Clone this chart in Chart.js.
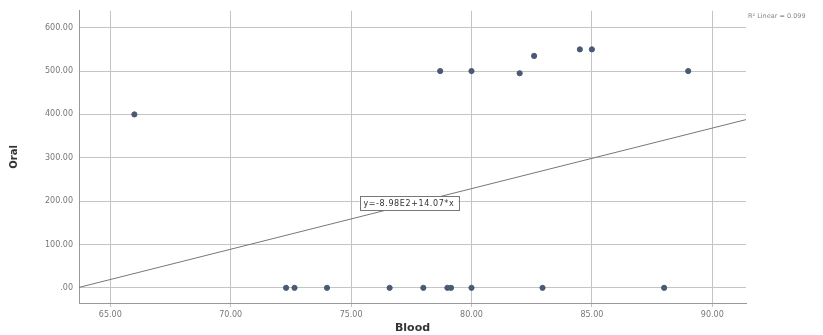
<!DOCTYPE html>
<html>
<head>
<meta charset="utf-8">
<script src="https://cdn.jsdelivr.net/npm/chart.js@4/dist/chart.umd.min.js"></script>
<style>
  html, body { margin: 0; padding: 0; background: #fff; }
  #wrap { width: 823px; height: 335px; position: relative; }
</style>
</head>
<body>
<div id="wrap"><canvas id="myChart"></canvas></div>
<script>
// scatter points (Blood, Oral)
var bloodVals = [66.0, 78.7, 80.0, 82.0, 82.6, 84.5, 85.0, 89.0,
                 72.3, 72.65, 74.0, 76.6, 78.0, 79.0, 79.15, 80.0, 82.95, 88.0];
var oralVals  = [400, 500, 500, 495, 535, 550, 550, 500,
                 0, 0, 0, 0, 0, 0, 0, 0, 0, 0];

// fit line end points
var fitX = [63.7, 91.4];
var fitY = [1, 388];

var xTicks = [65, 70, 75, 80, 85, 90];
var yTicks = [0, 100, 200, 300, 400, 500, 600];
var fitLabel = 'y=-8.98E2+14.07*x';
var r2Label = 'R\u00B2 Linear = 0.099';

var points = [];
for (var i = 0; i < bloodVals.length; i++) {
  points.push({ x: bloodVals[i], y: oralVals[i] });
}
var linePts = [];
for (var j = 0; j < fitX.length; j++) {
  linePts.push({ x: fitX[j], y: fitY[j] });
}

function fmt(v) {
  return v === 0 ? '.00' : v.toFixed(2);
}

// labels: equation box + R2 text
var labelPlugin = {
  id: 'labels',
  afterDatasetsDraw: function(chart) {
    var ctx = chart.ctx;
    var xs = chart.scales.x, ys = chart.scales.y;
    ctx.save();
    ctx.font = '8px "DejaVu Sans"';
    var tw = ctx.measureText(fitLabel).width + 10;
    var cx = xs.getPixelForValue(77.4);
    var cy = ys.getPixelForValue(200) + 2;
    ctx.fillStyle = '#fff';
    ctx.fillRect(cx - tw / 2 - 4, cy - 7, tw + 8, 14);
    ctx.strokeStyle = '#777';
    ctx.lineWidth = 1;
    ctx.strokeRect(Math.round(cx - tw / 2 - 4) + 0.5, Math.round(cy - 7) + 0.5, Math.round(tw + 8), 14);
    ctx.fillStyle = '#333';
    ctx.textAlign = 'center';
    ctx.textBaseline = 'middle';
    if ('letterSpacing' in ctx) ctx.letterSpacing = '0.6px';
    ctx.fillText(fitLabel, cx, cy + 0.5);
    if ('letterSpacing' in ctx) ctx.letterSpacing = '0px';

    ctx.font = '6.5px "DejaVu Sans"';
    ctx.fillStyle = '#888';
    ctx.textAlign = 'left';
    ctx.fillText(r2Label, chart.chartArea.right + 2, 16);
    ctx.restore();
  }
};

var ctx = document.getElementById('myChart').getContext('2d');
var chart = new Chart(ctx, {
  type: 'scatter',
  data: {
    datasets: [{
      data: points,
      backgroundColor: '#4b5a74',
      borderColor: '#4b5a74',
      pointRadius: 2.6,
      pointHoverRadius: 2.6,
      order: 1
    }, {
      type: 'line',
      data: linePts,
      borderColor: '#777',
      borderWidth: 1,
      pointRadius: 0,
      fill: false,
      order: 2
    }]
  },
  options: {
    responsive: true,
    maintainAspectRatio: false,
    animation: false,
    events: [],
    layout: { padding: { top: 10, right: 77, left: 0, bottom: 0 } },
    plugins: { legend: { display: false }, tooltip: { enabled: false } },
    scales: {
      x: {
        type: 'linear',
        min: 63.7,
        max: 91.4,
        afterBuildTicks: function(s) { s.ticks = xTicks.map(function(v) { return { value: v }; }); },
        ticks: { callback: fmt, color: '#777', font: { size: 8, family: 'DejaVu Sans' }, maxRotation: 0, padding: 3 },
        grid: { color: '#c4c4c4', lineWidth: 1, tickLength: 4, drawTicks: true },
        border: { color: '#999', width: 1 },
        title: { display: true, text: 'Blood', color: '#333', font: { size: 11, weight: 'bold', family: 'DejaVu Sans' }, padding: { top: 1, bottom: 0 } },
        afterFit: function(s) { s.height = 32; }
      },
      y: {
        type: 'linear',
        min: -35,
        max: 639,
        afterBuildTicks: function(s) { s.ticks = yTicks.map(function(v) { return { value: v }; }); },
        ticks: { callback: fmt, color: '#777', font: { size: 8, family: 'DejaVu Sans' }, padding: 6 },
        grid: { color: '#c4c4c4', lineWidth: 1, drawTicks: false },
        border: { color: '#999', width: 1 },
        title: { display: true, text: 'Oral', color: '#333', font: { size: 10, weight: 'bold', family: 'DejaVu Sans' }, padding: { top: 8, bottom: 14 } },
        afterFit: function(s) { s.width = 79; }
      }
    }
  },
  plugins: [labelPlugin]
});
</script>
</body>
</html>
